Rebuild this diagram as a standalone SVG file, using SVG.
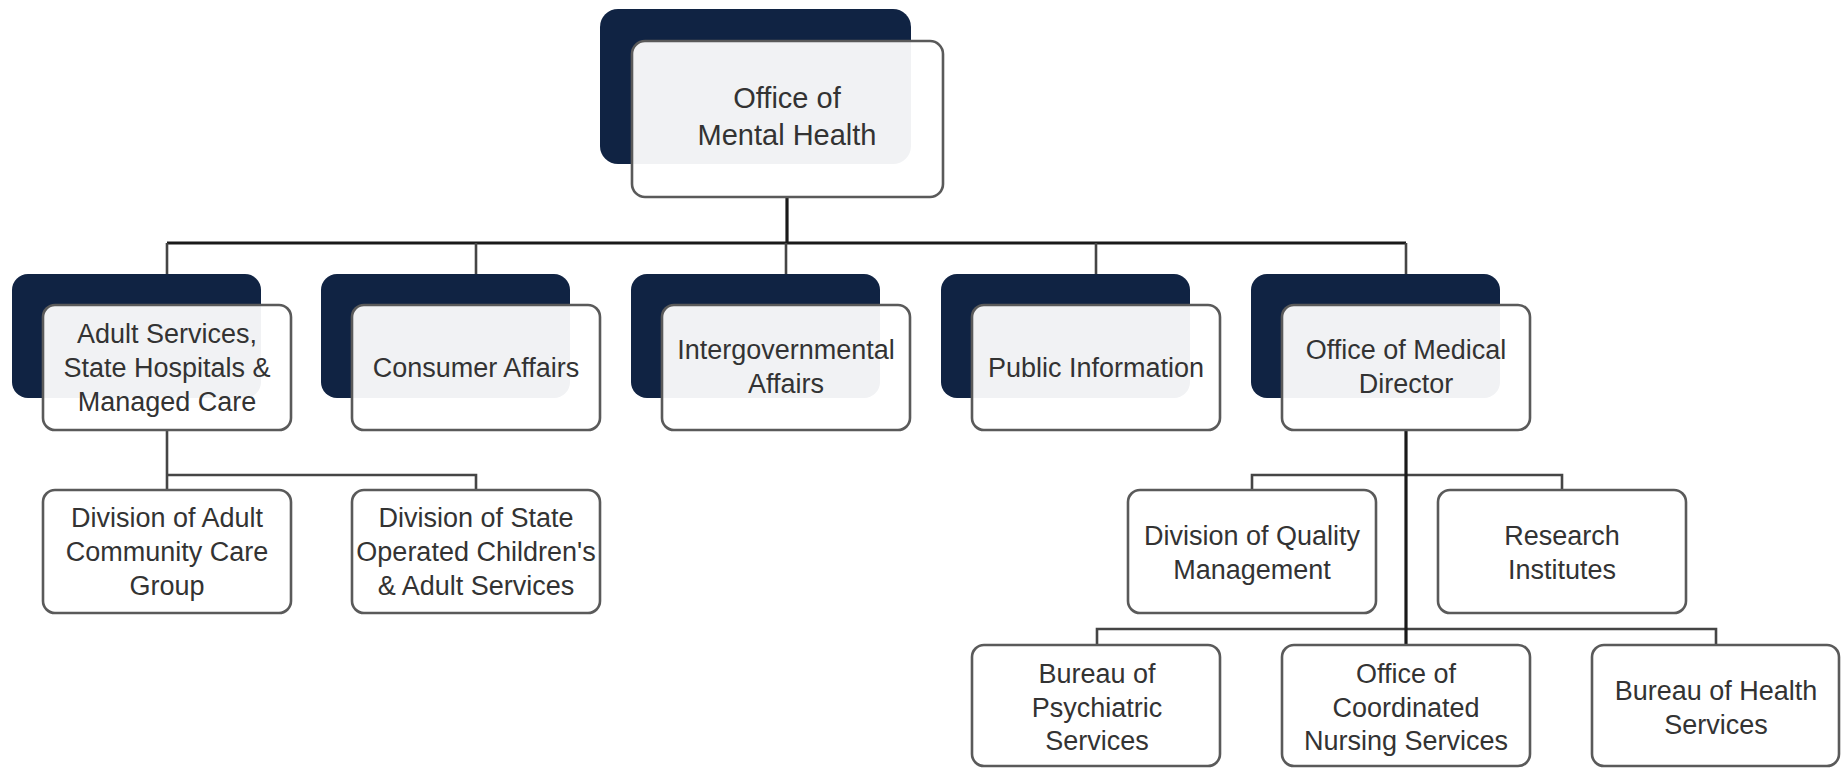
<svg xmlns="http://www.w3.org/2000/svg" width="1841" height="768" viewBox="0 0 1841 768">
  <style>
    .back { fill: #102343; }
    .card { fill: #ffffff; fill-opacity: 0.94; stroke: #5a5a5a; stroke-width: 2.6; }
    .leaf { fill: #ffffff; stroke: #5a5a5a; stroke-width: 2.6; }
    .lbl { font-family: "Liberation Sans", Arial, sans-serif; font-size: 27px; fill: #333333; text-anchor: middle; }
    .big { font-size: 29px; }
    .wire { fill: none; stroke: #454545; stroke-width: 2.6; }
    .trunk { fill: none; stroke: #1a1a1a; stroke-width: 3.2; }
  </style>
  <rect width="1841" height="768" fill="#ffffff"/>

  <g id="connectors">
    <path class="trunk" d="M787 197 V243"/>
    <path class="trunk" d="M167 243 H1406"/>
    <path class="wire" d="M167 243 V274 M476 243 V274 M786 243 V274 M1096 243 V274 M1406 243 V274"/>
    <path class="wire" d="M167 430 V490 M167 475 H476 V490"/>
    <path class="wire" d="M1252 490 V475 H1562 V490"/>
    <path class="wire" d="M1097 645 V629 H1716 V645"/>
    <path class="trunk" d="M1406 430 V645"/>
  </g>

  <g id="office-of-mental-health">
    <rect class="back" x="600" y="9" width="311" height="155" rx="18"/>
    <rect class="card" x="632" y="41" width="311" height="156" rx="13"/>
    <text class="lbl big" x="787" y="108">Office of</text>
    <text class="lbl big" x="787" y="145">Mental Health</text>
  </g>

  <g id="adult-services">
    <rect class="back" x="12" y="274" width="249" height="124" rx="16"/>
    <rect class="card" x="43" y="305" width="248" height="125" rx="12"/>
    <text class="lbl" x="167" y="343">Adult Services,</text>
    <text class="lbl" x="167" y="377">State Hospitals &amp;</text>
    <text class="lbl" x="167" y="411">Managed Care</text>
  </g>

  <g id="consumer-affairs">
    <rect class="back" x="321" y="274" width="249" height="124" rx="16"/>
    <rect class="card" x="352" y="305" width="248" height="125" rx="12"/>
    <text class="lbl" x="476" y="377">Consumer Affairs</text>
  </g>

  <g id="intergovernmental-affairs">
    <rect class="back" x="631" y="274" width="249" height="124" rx="16"/>
    <rect class="card" x="662" y="305" width="248" height="125" rx="12"/>
    <text class="lbl" x="786" y="359">Intergovernmental</text>
    <text class="lbl" x="786" y="393">Affairs</text>
  </g>

  <g id="public-information">
    <rect class="back" x="941" y="274" width="249" height="124" rx="16"/>
    <rect class="card" x="972" y="305" width="248" height="125" rx="12"/>
    <text class="lbl" x="1096" y="377">Public Information</text>
  </g>

  <g id="office-of-medical-director">
    <rect class="back" x="1251" y="274" width="249" height="124" rx="16"/>
    <rect class="card" x="1282" y="305" width="248" height="125" rx="12"/>
    <text class="lbl" x="1406" y="359">Office of Medical</text>
    <text class="lbl" x="1406" y="393">Director</text>
  </g>

  <g id="division-adult-community-care">
    <rect class="leaf" x="43" y="490" width="248" height="123" rx="12"/>
    <text class="lbl" x="167" y="527">Division of Adult</text>
    <text class="lbl" x="167" y="561">Community Care</text>
    <text class="lbl" x="167" y="595">Group</text>
  </g>

  <g id="division-state-operated">
    <rect class="leaf" x="352" y="490" width="248" height="123" rx="12"/>
    <text class="lbl" x="476" y="527">Division of State</text>
    <text class="lbl" x="476" y="561">Operated Children's</text>
    <text class="lbl" x="476" y="595">&amp; Adult Services</text>
  </g>

  <g id="division-quality-management">
    <rect class="leaf" x="1128" y="490" width="248" height="123" rx="12"/>
    <text class="lbl" x="1252" y="545">Division of Quality</text>
    <text class="lbl" x="1252" y="579">Management</text>
  </g>

  <g id="research-institutes">
    <rect class="leaf" x="1438" y="490" width="248" height="123" rx="12"/>
    <text class="lbl" x="1562" y="545">Research</text>
    <text class="lbl" x="1562" y="579">Institutes</text>
  </g>

  <g id="bureau-psychiatric-services">
    <rect class="leaf" x="972" y="645" width="248" height="121" rx="12"/>
    <text class="lbl" x="1097" y="683">Bureau of</text>
    <text class="lbl" x="1097" y="717">Psychiatric</text>
    <text class="lbl" x="1097" y="750">Services</text>
  </g>

  <g id="office-coordinated-nursing">
    <rect class="leaf" x="1282" y="645" width="248" height="121" rx="12"/>
    <text class="lbl" x="1406" y="683">Office of</text>
    <text class="lbl" x="1406" y="717">Coordinated</text>
    <text class="lbl" x="1406" y="750">Nursing Services</text>
  </g>

  <g id="bureau-health-services">
    <rect class="leaf" x="1592" y="645" width="247" height="121" rx="12"/>
    <text class="lbl" x="1716" y="700">Bureau of Health</text>
    <text class="lbl" x="1716" y="734">Services</text>
  </g>
</svg>
